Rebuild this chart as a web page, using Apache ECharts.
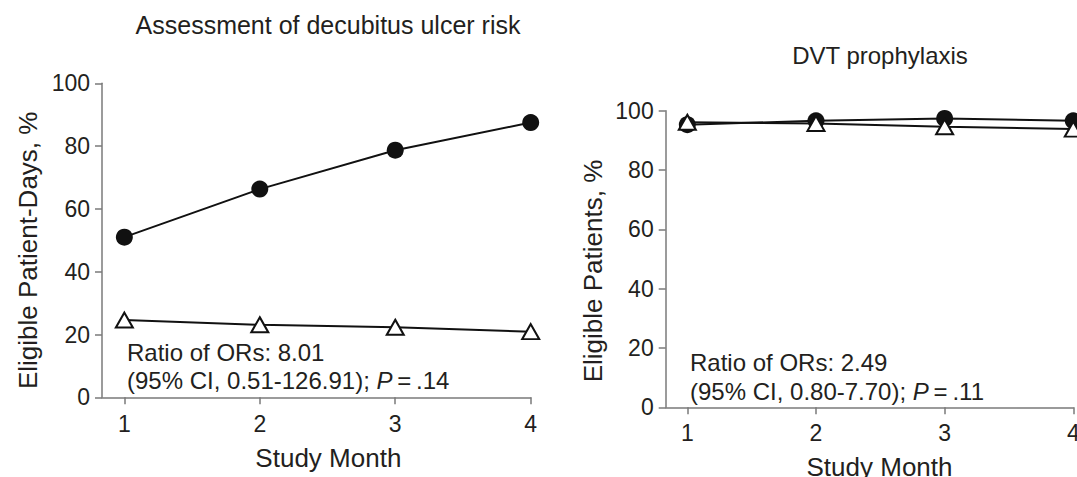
<!DOCTYPE html>
<html>
<head>
<meta charset="utf-8">
<script src="https://cdn.jsdelivr.net/npm/echarts@6/dist/echarts.min.js"></script>
<style>html,body{margin:0;padding:0;background:#fff;}#c{width:1077px;height:477px;}</style>
</head>
<body>
<div id="c"></div>
<script>
// ---- data ----
var months = [1, 2, 3, 4];
var monthTicks = [1, 2, 3, 4];
var yTicksInterval = 20;
var ulcerIntervention = [51, 66.3, 78.7, 87.5];
var ulcerControl = [24.6, 23.1, 22.3, 20.9];
var dvtIntervention = [95.3, 96.6, 97.4, 96.6];
var dvtControl = [96.1, 95.7, 94.6, 93.8];
var titles = ['Assessment of decubitus ulcer risk', 'DVT prophylaxis'];
var yNames = ['Eligible Patient-Days, %', 'Eligible Patients, %'];
var xName = 'Study Month';
var notes1 = ['Ratio of ORs: 8.01', '(95% CI, 0.51-126.91); {i|P}\u2009=\u2009.14'];
var notes2 = ['Ratio of ORs: 2.49', '(95% CI, 0.80-7.70); {i|P}\u2009=\u2009.11'];

function pairs(vals){ return months.map(function(m,i){ return [m, vals[i]]; }); }

var FONT = '"Liberation Sans", Arial, Helvetica, sans-serif';
var TXT = '#231f20';
var AX = '#7a7a7a';

function xAx(gi, min, gap, shift, margin){
  return {
    type:'value', gridIndex:gi, min:min, max:4,
    axisLine:{lineStyle:{color:AX, width:1.5}},
    axisTick:{length:7, lineStyle:{color:AX, width:1.5}, customValues: monthTicks},
    axisLabel:{color:TXT, fontFamily:FONT, fontSize:23, margin:margin, customValues: monthTicks},
    splitLine:{show:false},
    name:xName, nameLocation:'middle', nameGap:gap,
    nameTextStyle:{color:TXT, fontFamily:FONT, fontSize:26, padding:[0,0,0,shift]}
  };
}
function yAx(gi, name, gap, shift){
  return {
    type:'value', gridIndex:gi, min:0, max:100, interval:yTicksInterval,
    axisLine:{show:true, lineStyle:{color:AX, width:1.5}},
    axisTick:{show:true, length:7, lineStyle:{color:AX, width:1.5}},
    axisLabel:{color:TXT, fontFamily:FONT, fontSize:23, margin:12},
    splitLine:{show:false},
    name:name, nameLocation:'middle', nameGap:gap,
    nameTextStyle:{color:TXT, fontFamily:FONT, fontSize:26, padding:[0,shift,0,0]}
  };
}
function circ(xi, vals){
  return {type:'line', xAxisIndex:xi, yAxisIndex:xi, data:pairs(vals),
    symbol:'circle', symbolSize:17, itemStyle:{color:'#111'},
    lineStyle:{color:'#111', width:2}, z:2};
}
function tri(xi, vals){
  return {type:'line', xAxisIndex:xi, yAxisIndex:xi, data:pairs(vals),
    symbol:'triangle', symbolSize:[17,15], itemStyle:{color:'#fff', borderColor:'#111', borderWidth:2},
    lineStyle:{color:'#111', width:2}, z:3};
}
function txt(x, y, s, size){
  return {type:'text', x:x, y:y, style:{text:s, fill:TXT, fontFamily:FONT, fontSize:size,
    align:'left', verticalAlign:'middle',
    rich:{i:{fontStyle:'italic', fontFamily:FONT, fontSize:size, fill:TXT}}}};
}
function ctext(x, y, s, size){
  return {type:'text', x:x, y:y, style:{text:s, fill:TXT, fontFamily:FONT, fontSize:size,
    align:'center', verticalAlign:'middle'}};
}

var chart = echarts.init(document.getElementById('c'), null, {renderer:'svg'});
chart.setOption({
  animation:false,
  backgroundColor:'#fff',
  grid:[
    {left:102, top:83.3, width:428.7, height:314, containLabel:false, outerBoundsMode:'none'},
    {left:665.7, top:110.7, width:407.6, height:296.6, containLabel:false, outerBoundsMode:'none'}
  ],
  xAxis:[ xAx(0, 0.835, 48, 24, 15), xAx(1, 0.832, 47, 20, 14) ],
  yAxis:[ yAx(0, yNames[0], 61, 20), yAx(1, yNames[1], 60, 24) ],
  series:[ circ(0, ulcerIntervention), tri(0, ulcerControl), circ(1, dvtIntervention), tri(1, dvtControl) ],
  graphic:[
    ctext(328, 25, titles[0], 25),
    ctext(880, 55, titles[1], 24),
    txt(127, 352, notes1[0], 24),
    txt(127, 380, notes1[1], 24),
    txt(690, 362, notes2[0], 24),
    txt(690, 391, notes2[1], 24)
  ]
});
</script>
</body>
</html>
